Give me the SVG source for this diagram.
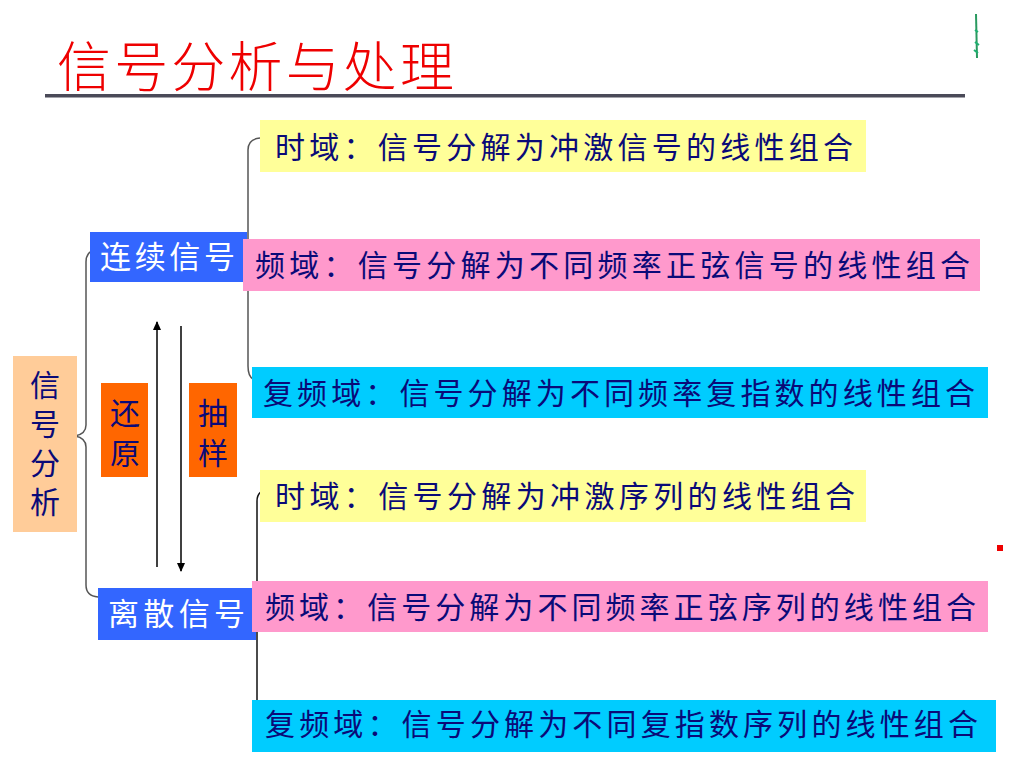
<svg xmlns="http://www.w3.org/2000/svg" width="1016" height="768" viewBox="0 0 1016 768">
<defs>
<style>
.t{font-family:"Noto Sans CJK SC","Noto Sans",sans-serif;font-size:30px;fill:#0a0a78}
.v{font-family:"Noto Sans CJK SC","Noto Sans",sans-serif;font-size:30px;fill:#0a0a78;writing-mode:vertical-rl}
.w{font-family:"Noto Sans CJK SC","Noto Sans",sans-serif;font-size:31px;fill:#ffffff}
.br{fill:none;stroke:#555;stroke-width:1.5}
.ar{stroke:#000;stroke-width:1.5}
</style>
<marker id="ah" markerWidth="10" markerHeight="10" refX="8" refY="5" orient="auto" markerUnits="userSpaceOnUse">
<path d="M0,1 L9,5 L0,9 Z" fill="#000"/>
</marker>
</defs>
<rect width="1016" height="768" fill="#fff"/>
<g id="title">
<text x="57" y="87" font-family="Noto Sans CJK SC,sans-serif" font-size="54" fill="#ee0000" textLength="397" lengthAdjust="spacing" style="font-weight:300">信号分析与处理</text>
<rect x="45" y="94" width="920" height="3.5" fill="#4a4a58"/>
</g>
<g id="deco">
<path d="M976,14 L977,58" stroke="#2a9a60" stroke-width="2" fill="none"/>
<path d="M975,30 L978,32 M975,42 L979,45 M974,50 L978,53" stroke="#1db070" stroke-width="2"/>
<rect x="997" y="545" width="6" height="6" fill="#ee0000"/>
</g>
<g id="connectors">
<path class="br" d="M97,249 Q86,251 86,262 L86,425 Q86,434 75,436 Q86,438 86,447 L86,585 Q86,596 98,597"/>
<path class="br" d="M260,138 Q248,139 248,150 L248,252 Q248,261 238,263 Q248,265 248,274 L248,366 Q248,376 253,379"/>
<path class="br" style="stroke:#111" d="M270,489 Q257,490 257,501 L257,596 Q257,605 248,607 Q257,609 257,618 L257,722 Q257,732 270,733"/>
<line class="ar" x1="157" y1="567" x2="157" y2="322" marker-end="url(#ah)"/>
<line class="ar" x1="181" y1="326" x2="181" y2="571" marker-end="url(#ah)"/>
</g>
<g id="n-root">
<rect x="13" y="356" width="64" height="176" fill="#ffcc99"/>
<text class="v" x="45" y="370" letter-spacing="9">信号分析</text>
</g>
<g id="n-cont">
<rect x="90" y="232" width="157" height="50" fill="#3366ff"/>
<text class="w" x="100" y="268" textLength="135" lengthAdjust="spacing">连续信号</text>
</g>
<g id="n-disc">
<rect x="98" y="588" width="158" height="52" fill="#3366ff"/>
<text class="w" x="108" y="625" textLength="137" lengthAdjust="spacing">离散信号</text>
</g>
<g id="n-restore">
<rect x="101" y="383" width="47" height="94" fill="#ff6600"/>
<text class="v" x="125" y="398" letter-spacing="10">还原</text>
</g>
<g id="n-sample">
<rect x="189" y="383" width="48" height="94" fill="#ff6600"/>
<text class="v" x="213" y="398" letter-spacing="10">抽样</text>
</g>
<g id="n-c-time">
<rect x="260" y="120" width="606" height="52" fill="#ffff99"/>
<text class="t" x="275" y="158" textLength="578" lengthAdjust="spacing">时域：信号分解为冲激信号的线性组合</text>
</g>
<g id="n-c-freq">
<rect x="243" y="239" width="737" height="52" fill="#ff99cc"/>
<text class="t" x="255" y="276" textLength="715" lengthAdjust="spacing">频域：信号分解为不同频率正弦信号的线性组合</text>
</g>
<g id="n-c-cfreq">
<rect x="252" y="367" width="736" height="51" fill="#00ccff"/>
<text class="t" x="263" y="404" textLength="712" lengthAdjust="spacing">复频域：信号分解为不同频率复指数的线性组合</text>
</g>
<g id="n-d-time">
<rect x="260" y="470" width="606" height="52" fill="#ffff99"/>
<text class="t" x="275" y="507" textLength="580" lengthAdjust="spacing">时域：信号分解为冲激序列的线性组合</text>
</g>
<g id="n-d-freq">
<rect x="252" y="581" width="736" height="51" fill="#ff99cc"/>
<text class="t" x="265" y="618" textLength="711" lengthAdjust="spacing">频域：信号分解为不同频率正弦序列的线性组合</text>
</g>
<g id="n-d-cfreq">
<rect x="252" y="700" width="744" height="52" fill="#00ccff"/>
<text class="t" x="265" y="735" textLength="713" lengthAdjust="spacing">复频域：信号分解为不同复指数序列的线性组合</text>
</g>
</svg>
